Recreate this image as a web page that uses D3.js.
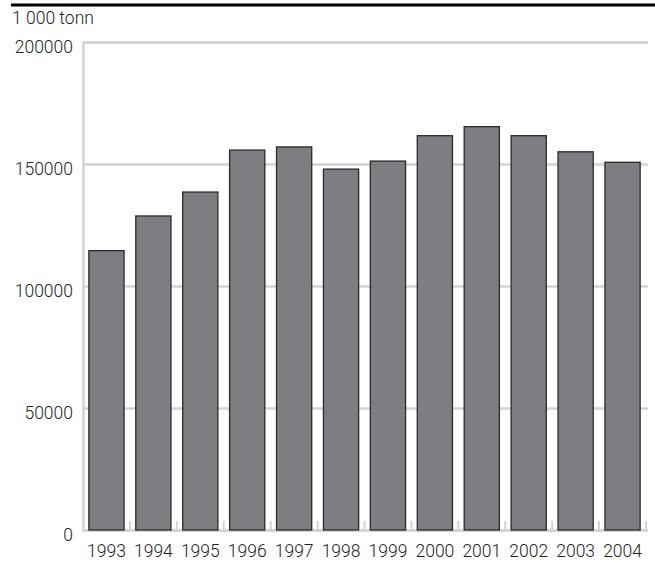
<!DOCTYPE html>
<html><head><meta charset="utf-8">
<script src="https://cdn.jsdelivr.net/npm/d3@7"></script>
<style>
html,body{margin:0;padding:0;background:#fff;}
text{font-family:Roboto,"Liberation Sans",sans-serif;font-weight:300;fill:#222;}
</style></head>
<body>
<svg id="chart" width="655" height="563"></svg>
<script>
const years = ["1993","1994","1995","1996","1997","1998","1999","2000","2001","2002","2003","2004"];
const values = [114500,128700,138500,155700,157000,147900,151200,161600,165300,161600,155000,150700];
const yTicks = [0,50000,100000,150000,200000];
const unitLabel = "1 000 tonn";

const svg = d3.select("#chart");
const x0 = 83, x1 = 646, yTop = 42, yBot = 530;
const FS = 17.5;
const x = d3.scaleBand().domain(years).range([x0, x1]).paddingInner(0.25).paddingOuter(0.125);
const y = d3.scaleLinear().domain([0,200000]).range([yBot, yTop]);

// top rule
svg.append("line").attr("x1",11).attr("x2",655).attr("y1",5).attr("y2",5)
  .attr("stroke","#000").attr("stroke-width",3);

// unit label
svg.append("text").attr("x",12).attr("y",24).attr("font-size",FS).text(unitLabel);

// gridlines
const grid = d3.axisLeft(y).tickValues(yTicks).tickSize(-(x1 + 2 - x0)).tickFormat(d => d);
const gy = svg.append("g").attr("transform",`translate(${x0},0)`).call(grid);
gy.select(".domain").attr("stroke","#d3d3d3").attr("stroke-width",2.5);
gy.selectAll(".tick line").attr("stroke","#d3d3d3").attr("stroke-width",2.5);
gy.selectAll(".tick text").attr("x",-10).attr("dy","0.58em").attr("font-size",FS)
  .style("font-family","Roboto, sans-serif").style("font-weight",300).attr("fill","#222");

// bottom ticks at band boundaries
const bounds = years.map((d,i)=> i===0 ? null : x(d) - x.step()*x.paddingInner()/2).filter(v=>v!==null);
bounds.push(x1);
svg.append("g").selectAll("line").data(bounds).join("line")
  .attr("x1",d=>d).attr("x2",d=>d).attr("y1",yBot).attr("y2",yBot-9)
  .attr("stroke","#d3d3d3").attr("stroke-width",2);

// bars
svg.append("g").selectAll("rect").data(years).join("rect")
  .attr("x",d=>x(d)).attr("width",x.bandwidth())
  .attr("y",(d,i)=>y(values[i])).attr("height",(d,i)=>yBot - y(values[i]))
  .attr("fill","#7e7e82").attr("stroke","#2a2a2a").attr("stroke-width",1.3);

// x axis labels
const xa = d3.axisBottom(x).tickSize(0).tickPadding(15);
const gx = svg.append("g").attr("transform",`translate(0,${yBot})`).call(xa);
gx.select(".domain").remove();
gx.selectAll(".tick text").attr("font-size",FS)
  .style("font-family","Roboto, sans-serif").style("font-weight",300).attr("fill","#222");
</script>
</body></html>
